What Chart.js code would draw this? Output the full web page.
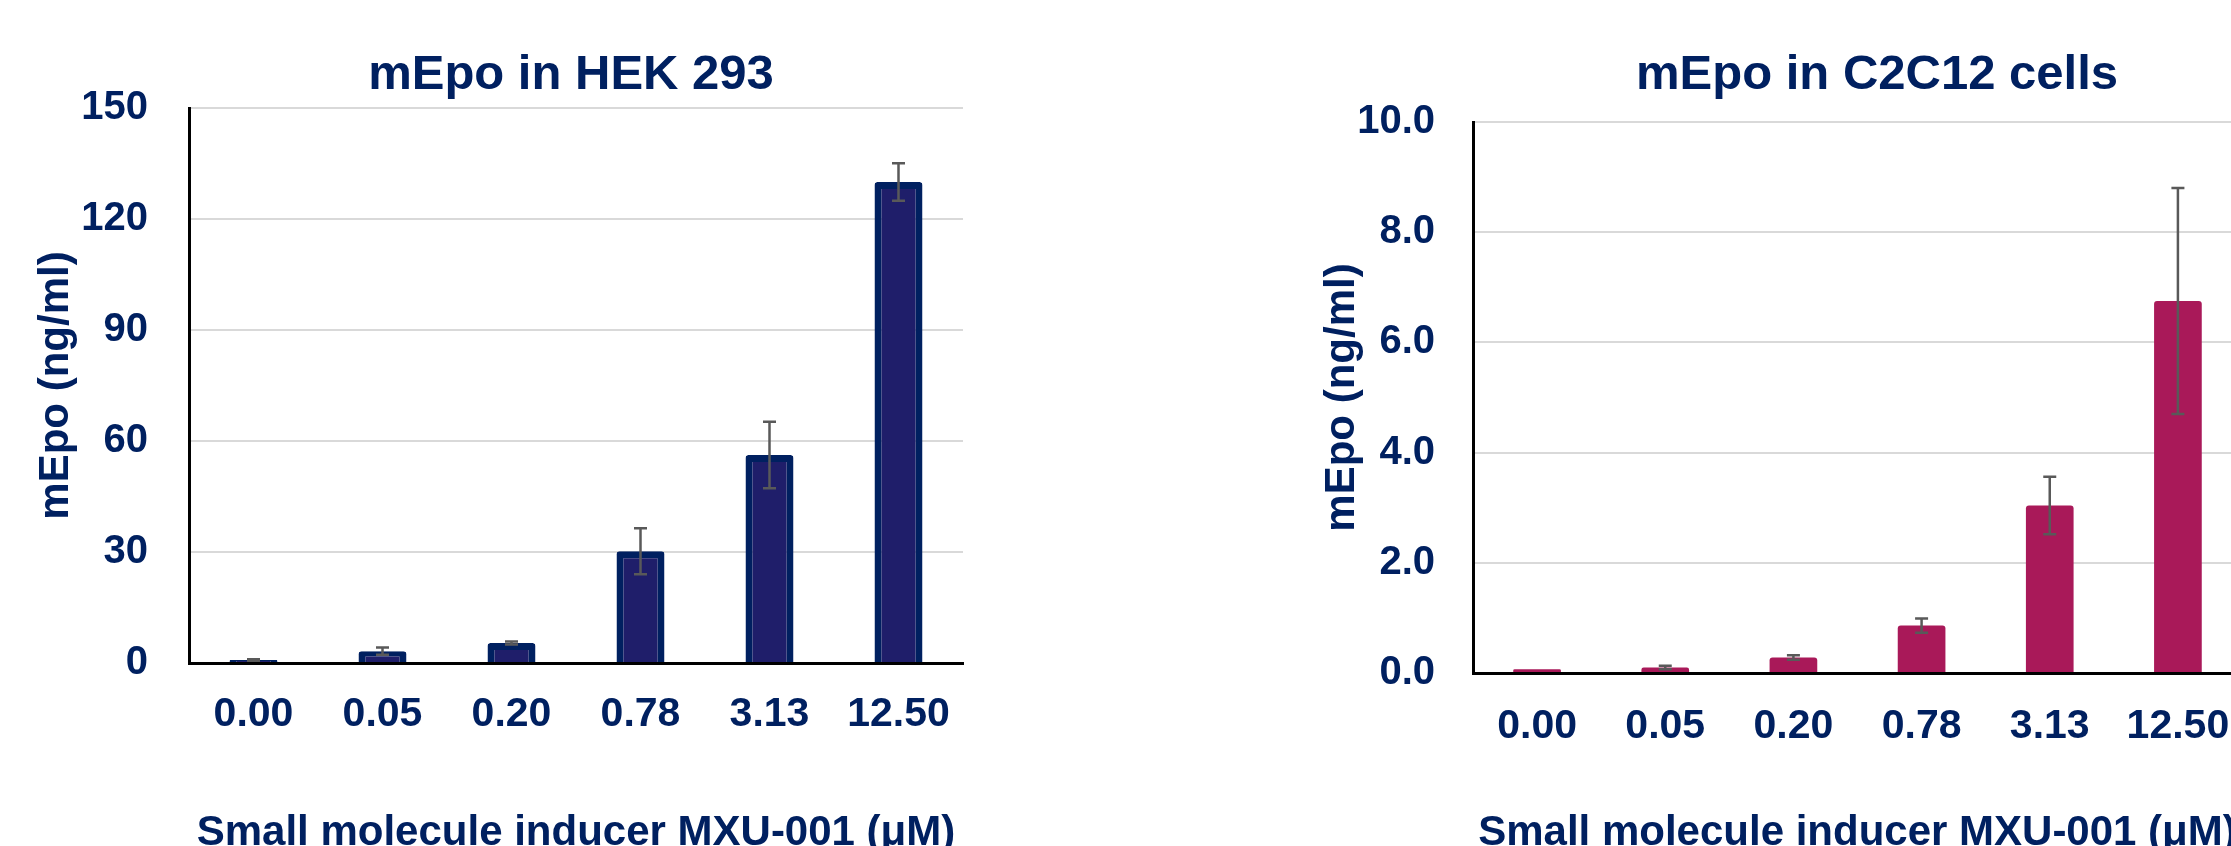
<!DOCTYPE html>
<html>
<head>
<meta charset="utf-8">
<script src="https://cdn.jsdelivr.net/npm/chart.js@4.4.0/dist/chart.umd.min.js"></script>
<style>
  html, body { margin: 0; padding: 0; background: #fff; width: 2231px; height: 846px; overflow: hidden; position: relative; }
  canvas { position: absolute; top: 0; }
  #hek { left: 0; }
  #c2c12 { left: 1231px; }
</style>
</head>
<body>
<canvas id="hek" width="1142" height="880"></canvas>
<canvas id="c2c12" width="1292" height="880"></canvas>
<script>
// MXU-001 doses (uM)
const doses = ['0.00', '0.05', '0.20', '0.78', '3.13', '12.50'];

// mEpo in HEK 293 (ng/ml)
const hekMean = [0.8, 3.2, 5.4, 30.2, 56.2, 130.0];
const hekErr = [0.2, 1.0, 0.4, 6.2, 9.0, 5.1];
const hekTicks = [0, 30, 60, 90, 120, 150];

// mEpo in C2C12 cells (ng/ml)
const c2Mean = [0.07, 0.10, 0.28, 0.86, 3.04, 6.75];
const c2Err = [0, 0.03, 0.04, 0.13, 0.52, 2.05];
const c2Ticks = [0, 2, 4, 6, 8, 10];

const navy = '#002060';
const fontFamily = '"Liberation Sans", Arial, sans-serif';
Chart.defaults.font.family = fontFamily;
Chart.defaults.font.weight = 'bold';
Chart.defaults.color = navy;

// draws +/- error whiskers on top of each bar
const errorBars = {
  id: 'errorBars',
  afterDatasetsDraw(chart) {
    const ctx = chart.ctx;
    const yScale = chart.scales.y;
    chart.data.datasets.forEach((ds, i) => {
      chart.getDatasetMeta(i).data.forEach((bar, j) => {
        const e = ds.errors[j];
        if (!e) return;
        const top = yScale.getPixelForValue(ds.data[j] + e);
        const bot = yScale.getPixelForValue(ds.data[j] - e);
        ctx.save();
        ctx.strokeStyle = '#595959';
        ctx.lineWidth = 2.5;
        ctx.beginPath();
        ctx.moveTo(bar.x, top); ctx.lineTo(bar.x, bot);
        ctx.moveTo(bar.x - 6.5, top); ctx.lineTo(bar.x + 6.5, top);
        ctx.moveTo(bar.x - 6.5, bot); ctx.lineTo(bar.x + 6.5, bot);
        ctx.stroke();
        ctx.restore();
      });
    });
  }
};

function makeChart(id, o) {
  return new Chart(document.getElementById(id), {
    type: 'bar',
    data: {
      labels: doses,
      datasets: [{
        data: o.mean,
        errors: o.err,
        backgroundColor: o.fill,
        borderColor: o.border,
        borderWidth: o.borderWidth,
        borderRadius: 3,
        borderSkipped: 'start',
        barPercentage: 0.372,
        categoryPercentage: 1
      }]
    },
    options: {
      responsive: false,
      animation: false,
      layout: { padding: 0 },
      plugins: {
        legend: { display: false },
        tooltip: { enabled: false },
        title: {
          display: true,
          text: o.title,
          color: navy,
          font: { size: 49, weight: 'bold' },
          padding: { top: 45.6, bottom: o.titleGap }
        }
      },
      scales: {
        x: {
          grid: { display: false, drawTicks: false },
          border: { color: '#000', width: 3 },
          ticks: { color: navy, font: { size: 41 }, padding: o.xTickPad, maxRotation: 0, autoSkip: false },
          title: {
            display: true,
            text: 'Small molecule inducer MXU-001 (μM)',
            color: navy,
            font: { size: 42 },
            padding: { top: 0, bottom: 21 }
          },
          afterFit: s => { s.height = o.xHeight; }
        },
        y: {
          min: 0,
          max: o.ticks[o.ticks.length - 1],
          afterBuildTicks: s => { s.ticks = o.ticks.map(v => ({ value: v })); },
          grid: {
            color: c => c.tick.value === 0 ? 'rgba(0,0,0,0)' : '#d9d9d9',
            lineWidth: 2,
            drawTicks: false
          },
          border: { color: '#000', width: 3 },
          ticks: { color: navy, font: { size: 40 }, padding: o.yTickPad, callback: o.fmt },
          title: {
            display: true,
            text: 'mEpo (ng/ml)',
            color: navy,
            font: { size: 42 },
            padding: { top: o.yTitlePad, bottom: 0 }
          },
          afterFit: s => { s.width = o.yWidth; }
        },
        // empty spacer so the title centres like the original
        y2: {
          position: 'right',
          grid: { display: false, drawTicks: false },
          border: { display: false },
          ticks: { display: false },
          afterFit: s => { s.width = o.rightGap; }
        }
      }
    },
    plugins: [errorBars]
  });
}

makeChart('hek', {
  title: 'mEpo in HEK 293',
  mean: hekMean, err: hekErr, ticks: hekTicks,
  fill: '#1F1E6A', border: navy, borderWidth: 7,
  fmt: v => v,
  titleGap: 3.6, xHeight: 217, xTickPad: 27.4,
  yWidth: 189, yTickPad: 41, yTitlePad: 30.8, rightGap: 179
});

makeChart('c2c12', {
  title: 'mEpo in C2C12 cells',
  mean: c2Mean, err: c2Err, ticks: c2Ticks,
  fill: '#A91959', border: '#A91959', borderWidth: 0,
  fmt: v => Number(v).toFixed(1),
  titleGap: 17.6, xHeight: 207, xTickPad: 29.4,
  yWidth: 242, yTickPad: 38, yTitlePad: 85.8, rightGap: 281
});
</script>
</body>
</html>
